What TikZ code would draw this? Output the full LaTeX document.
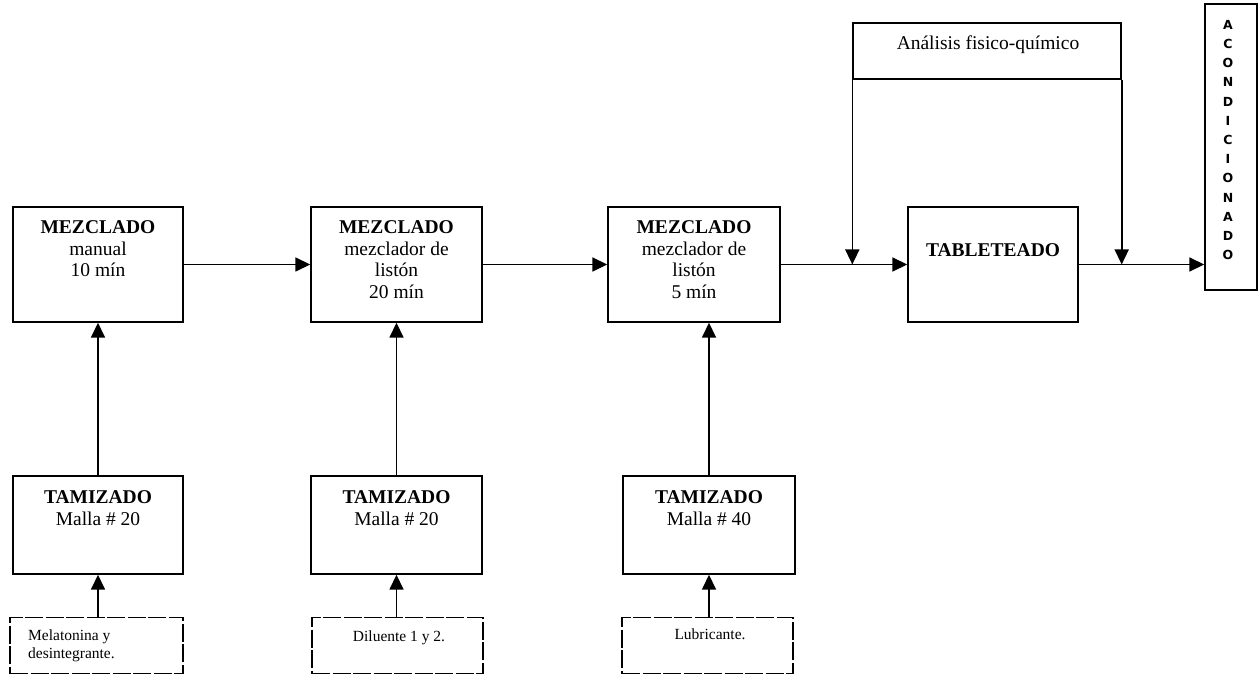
\documentclass[tikz,border=0pt]{standalone}
\usepackage{fontspec}
\setmainfont{Liberation Serif}
\newfontfamily\acfont{DejaVu Sans}
\usetikzlibrary{arrows.meta}
\begin{document}
\begin{tikzpicture}[x=1pt,y=-1pt,
  every node/.style={inner sep=0pt},
  procbox/.style={draw,line width=1.4pt,rectangle},
  inbox/.style={draw,line width=1.2pt,rectangle,dash pattern=on 18pt off 2.5pt},
  conn/.style={line width=1.6pt,-{Triangle[length=15pt,width=14pt]}},
  bigtxt/.style={align=center,anchor=north,font=\fontsize{19.5}{21.5}\selectfont},
  smalltxt/.style={anchor=north,font=\fontsize{15.5}{17.5}\selectfont}
]
\useasboundingbox (0,0) rectangle (1258,676);
% mixing boxes
\node[procbox,minimum width=170pt,minimum height=115pt] (m1) at (98,264.5) {};
\node[procbox,minimum width=171pt,minimum height=115pt] (m2) at (396.5,264.5) {};
\node[procbox,minimum width=172pt,minimum height=115pt] (m3) at (694,264.5) {};
\node[procbox,minimum width=170pt,minimum height=115pt] (tab) at (993,264.5) {};
\node[procbox,minimum width=52pt,minimum height=286pt] (ac) at (1231,147) {};
\node[procbox,minimum width=268pt,minimum height=56pt] (an) at (987,51) {};
% sieving boxes
\node[procbox,minimum width=170pt,minimum height=98pt] (t1) at (98,525) {};
\node[procbox,minimum width=171pt,minimum height=98pt] (t2) at (396.5,525) {};
\node[procbox,minimum width=172pt,minimum height=98pt] (t3) at (709,525) {};
% input boxes
\node[inbox,minimum width=173pt,minimum height=56pt] (b1) at (96.5,645.5) {};
\node[inbox,minimum width=171pt,minimum height=56pt] (b2) at (397.5,645.5) {};
\node[inbox,minimum width=171pt,minimum height=56pt] (b3) at (707.5,645.5) {};
% texts
\node[bigtxt] (m1t) at (98,220.5) {\textbf{MEZCLADO}\\manual\\10 mín};
\node[bigtxt] (m2t) at (396.5,220.5) {\textbf{MEZCLADO}\\mezclador de\\listón\\20 mín};
\node[bigtxt] (m3t) at (694,220.5) {\textbf{MEZCLADO}\\mezclador de\\listón\\5 mín};
\node[bigtxt] (tabt) at (993,243.5) {\textbf{TABLETEADO}};
\node[bigtxt] (ant) at (988,36) {Análisis fisico-químico};
\node[bigtxt] (t1t) at (98,490.5) {\textbf{TAMIZADO}\\Malla \# 20};
\node[bigtxt] (t2t) at (396.5,490.5) {\textbf{TAMIZADO}\\Malla \# 20};
\node[bigtxt] (t3t) at (709,490.5) {\textbf{TAMIZADO}\\Malla \# 40};
\node[smalltxt,anchor=north west,align=left] (b1t) at (28,630) {Melatonina y\\desintegrante.};
\node[smalltxt] (b2t) at (399,630.5) {Diluente 1 y 2.};
\node[smalltxt] (b3t) at (710,629) {Lubricante.};
\node[anchor=north,align=center,font=\acfont\bfseries\fontsize{12.5}{19.2}\selectfont] (act) at (1228,20)
  {A\\C\\O\\N\\D\\I\\C\\I\\O\\N\\A\\D\\O};
% connectors
\draw[conn] (m1.east) -- (m2.west);
\draw[conn] (m2.east) -- (m3.west);
\draw[conn] (m3.east) -- (tab.west);
\draw[conn] (tab.east) -- (ac.west |- tab.east);
\draw[conn] (an.south west) -- (an.south west |- tab.west);
\draw[conn] (an.south east) -- (an.south east |- tab.east);
\draw[conn] (t1.north) -- (m1.south);
\draw[conn] (t2.north) -- (m2.south);
\draw[conn] (t3.north) -- (t3.north |- m3.south);
\draw[conn] (t1.south |- b1.north) -- (t1.south);
\draw[conn] (t2.south |- b2.north) -- (t2.south);
\draw[conn] (t3.south |- b3.north) -- (t3.south);
\end{tikzpicture}
\end{document}
